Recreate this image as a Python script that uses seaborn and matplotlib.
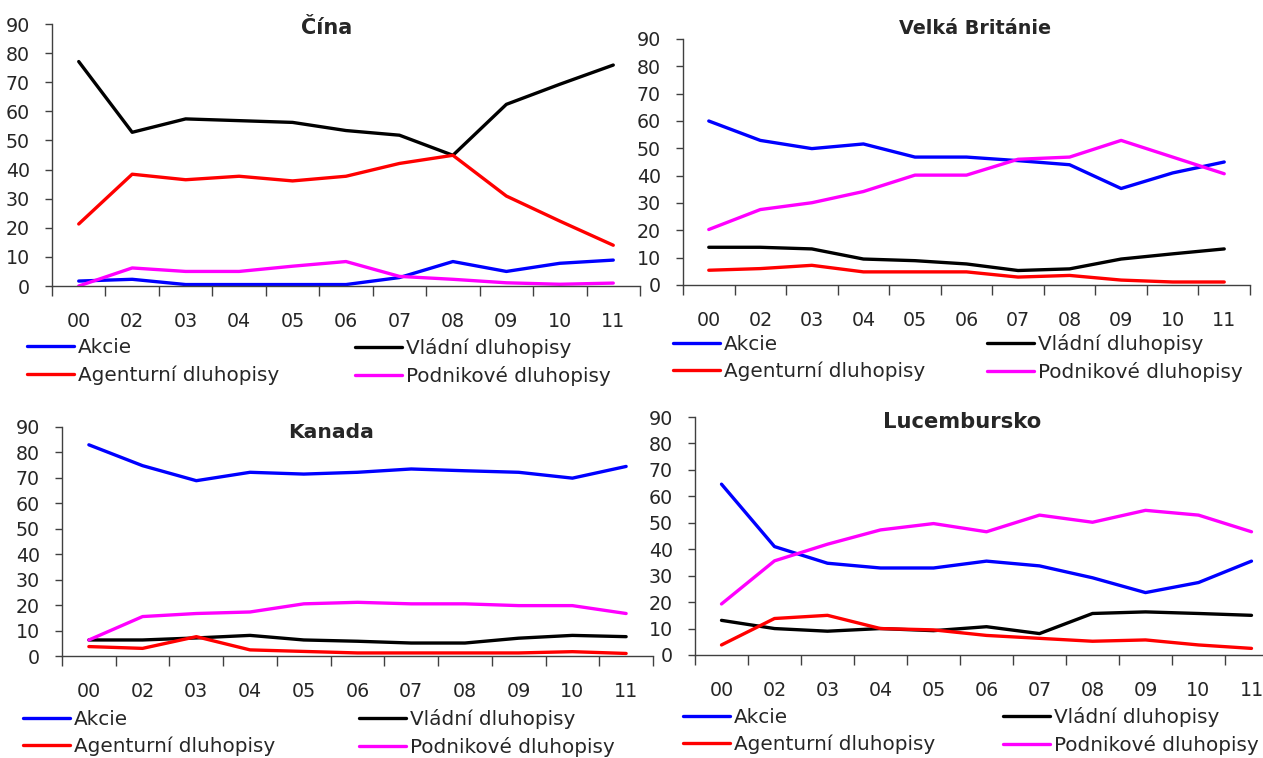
import matplotlib
matplotlib.use("Agg")
import matplotlib.pyplot as plt
from matplotlib.lines import Line2D
import pandas as pd
import seaborn as sns

sns.set_style("white")
plt.rcParams["font.family"] = ["DejaVu Sans"]

W, H = 1263, 758

years = ["00", "02", "03", "04", "05", "06", "07", "08", "09", "10", "11"]
series = ["Akcie", "Vládní dluhopisy", "Agenturní dluhopisy", "Podnikové dluhopisy"]
palette = {"Akcie": "#0000FF", "Vládní dluhopisy": "#000000",
           "Agenturní dluhopisy": "#FF0000", "Podnikové dluhopisy": "#FF00FF"}

# Čína
cina_akcie = [1.7, 2.3, 0.5, 0.5, 0.5, 0.5, 2.9, 8.4, 5.0, 7.8, 8.9]
cina_vladni = [77.1, 52.8, 57.4, 56.8, 56.2, 53.4, 51.8, 44.9, 62.4, 69.3, 75.9]
cina_agent = [21.3, 38.4, 36.5, 37.7, 36.1, 37.7, 42.1, 44.9, 30.9, 22.3, 14.0]
cina_podnik = [0.0, 6.2, 5.0, 5.0, 6.8, 8.4, 3.3, 2.3, 1.1, 0.6, 1.0]

# Velká Británie
uk_akcie = [60.0, 52.9, 49.9, 51.6, 46.8, 46.8, 45.5, 44.0, 35.3, 41.0, 45.0]
uk_vladni = [13.8, 13.8, 13.2, 9.5, 8.9, 7.7, 5.3, 5.9, 9.5, 11.4, 13.2]
uk_agent = [5.4, 6.0, 7.2, 4.8, 4.8, 4.8, 2.9, 3.5, 1.8, 1.1, 1.1]
uk_podnik = [20.3, 27.6, 30.1, 34.2, 40.2, 40.2, 46.0, 46.8, 52.9, 46.8, 40.7]

# Kanada
ka_akcie = [83.0, 74.8, 68.9, 72.2, 71.5, 72.2, 73.5, 72.8, 72.2, 69.9, 74.5]
ka_vladni = [6.3, 6.3, 7.1, 8.1, 6.3, 5.8, 5.1, 5.1, 7.0, 8.1, 7.6]
ka_agent = [3.7, 3.0, 7.6, 2.4, 1.8, 1.2, 1.2, 1.2, 1.2, 1.7, 1.0]
ka_podnik = [6.3, 15.5, 16.7, 17.3, 20.5, 21.1, 20.5, 20.5, 19.8, 19.8, 16.7]

# Lucembursko
lu_akcie = [64.6, 41.0, 34.7, 32.9, 32.9, 35.5, 33.7, 29.2, 23.6, 27.4, 35.5]
lu_vladni = [13.1, 10.0, 9.0, 10.0, 9.2, 10.7, 8.1, 15.7, 16.3, 15.7, 15.0]
lu_agent = [3.8, 13.8, 15.0, 10.0, 9.5, 7.4, 6.3, 5.2, 5.7, 3.8, 2.5]
lu_podnik = [19.3, 35.6, 41.9, 47.3, 49.7, 46.6, 52.9, 50.2, 54.7, 52.9, 46.6]

panels = [
    ("Čína", [cina_akcie, cina_vladni, cina_agent, cina_podnik]),
    ("Velká Británie", [uk_akcie, uk_vladni, uk_agent, uk_podnik]),
    ("Kanada", [ka_akcie, ka_vladni, ka_agent, ka_podnik]),
    ("Lucembursko", [lu_akcie, lu_vladni, lu_agent, lu_podnik]),
]

# layout in pixels: axes (x0, x1, ytop, ybot), title (cx, cy, size), legend (col1 x, col2 x, row1 y, row2 y)
layout = [
    dict(ax=(52, 640, 24, 286), title=(327, 28, 15), leg=(27, 355, 347, 376)),
    dict(ax=(683, 1250, 39, 285), title=(975, 28, 13.8), leg=(673, 987, 342, 374)),
    dict(ax=(62, 653, 427, 656), title=(331, 432, 14.6), leg=(23, 359, 718, 748)),
    dict(ax=(695, 1278, 417, 655), title=(962, 422, 15.2), leg=(683, 1003, 717, 745)),
]

fig = plt.figure(figsize=(W / 100, H / 100), dpi=100)
spine_color = "#404040"

for (title, vals), lay in zip(panels, layout):
    x0, x1, yt, yb = lay["ax"]
    ax = fig.add_axes([x0 / W, 1 - yb / H, (x1 - x0) / W, (yb - yt) / H])
    ax.patch.set_alpha(0)
    df = pd.DataFrame({
        "pos": list(range(len(years))) * len(series),
        "value": [v for s in vals for v in s],
        "serie": [name for name in series for _ in years],
    })
    sns.lineplot(data=df, x="pos", y="value", hue="serie", hue_order=series,
                 palette=palette, linewidth=2.4, legend=False, ax=ax, sort=False)
    ax.set_xlim(-0.5, len(years) - 0.5)
    ax.set_ylim(0, 90)
    ax.set_yticks(range(0, 91, 10))
    ax.set_xticks(range(len(years)))
    ax.set_xticklabels(years)
    ax.set_xticks([i - 0.5 for i in range(len(years) + 1)], minor=True)
    ax.tick_params(axis="x", which="major", length=0, pad=19, labelsize=13.7)
    ax.tick_params(axis="x", which="minor", length=7, width=1, color=spine_color, direction="out")
    ax.tick_params(axis="y", length=5, width=1, color=spine_color, direction="out", pad=11, labelsize=13.7)
    ax.xaxis.set_ticks_position("bottom")
    ax.yaxis.set_ticks_position("left")
    for side in ("top", "right"):
        ax.spines[side].set_visible(False)
    for side in ("left", "bottom"):
        ax.spines[side].set_color(spine_color)
        ax.spines[side].set_linewidth(1)
    ax.set_xlabel("")
    ax.set_ylabel("")

    cx, cy, ts = lay["title"]
    fig.text(cx / W, 1 - cy / H, title, ha="center", va="center",
             fontsize=ts, fontweight="bold")

    lx1, lx2, r1, r2 = lay["leg"]
    cols = [[series[0], series[2]], [series[1], series[3]]]
    for lx, names in zip((lx1, lx2), cols):
        handles = [Line2D([], [], color=palette[n], linewidth=2.4) for n in names]
        fig.legend(handles, names, loc="center left",
                   bbox_to_anchor=(lx / W, 1 - ((r1 + r2) / 2) / H),
                   frameon=False, fontsize=14.4, handlelength=2.35,
                   handletextpad=0.2, labelspacing=0.4,
                   borderpad=0, borderaxespad=0)

fig.savefig("out.png", dpi=100)
